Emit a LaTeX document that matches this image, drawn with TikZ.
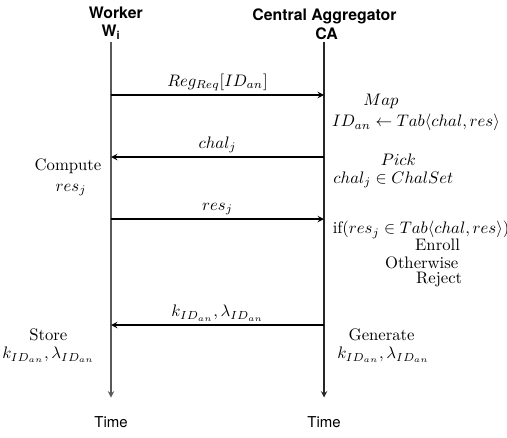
\documentclass[tikz,border=0pt]{standalone}
\usepackage{amsmath, amssymb}
\usepackage{fontspec}
\setsansfont{TeX Gyre Heros}
\usepackage{tikz}
\tikzset{party label/.style={font=\fontsize{9.5}{11}\selectfont\sffamily\bfseries,inner sep=0},
         time label/.style={font=\fontsize{9}{11}\selectfont\sffamily,inner sep=0},
         msg label/.style={above,inner sep=2pt},
         step note/.style={inner sep=0}}
\def\ds{\displaystyle}

\begin{document}
\begin{tikzpicture}[>=stealth, line width=0.7pt]
        \useasboundingbox (0,0) rectangle (304.2pt,-262.2pt);

          %Workerの時間軸
          \node[party label] (worker) at (69.5pt,-7.5pt) {Worker};
          \node[party label] (Wi) at (66.6pt,-19.5pt) {W\textsubscript{i}};
          \coordinate (wtop) at (66.6pt,-25pt);
          \coordinate (wbot) at (66.6pt,-238.5pt);
          \draw[->, draw=black!65] (wtop) -- (wbot);
          \node[time label] (wtime) at (66.6pt,-253.5pt) {Time};

          %CAの時間軸
          \node[party label] (central) at (194.7pt,-9.6pt) {Central Aggregator};
          \node[party label] (CA) at (196pt,-20.5pt) {CA};
          \coordinate (ctop) at (194.4pt,-25pt);
          \coordinate (cbot) at (194.4pt,-238.5pt);
          \draw[->, draw=black!85] (ctop) -- (cbot);
          \node[time label] (ctime) at (194.4pt,-253.5pt) {Time};

          %登録要求 W->CA
          \coordinate (w1) at (66.6pt,-57pt);
          \coordinate (c1) at (194.4pt,-57pt);
          \draw[->] (w1) -- node[msg label] {$\ds Reg_{Req}[ID_{an}]$} (c1);
          \node[step note] (map) at (228.6pt,-61pt) {$\ds Map$};
          \node[step note] (tab) at (249.6pt,-73.5pt) {$\ds ID_{an} \leftarrow Tab\langle chal, res\rangle$};

          %チャレンジ CA->W
          \coordinate (c2) at (194.4pt,-94.2pt);
          \coordinate (w2) at (66.6pt,-94.2pt);
          \draw[->] (c2) -- node[msg label] {$\ds chal_j$} (w2);
          \node[step note] (pick) at (239pt,-96pt) {$\ds Pick$};
          \node[step note] (chalset) at (236pt,-108pt) {$\ds chal_j \in ChalSet$};
          \node[step note] (compute) at (40.8pt,-99.6pt) {Compute};
          \node[step note] (resj) at (42.6pt,-114pt) {$\ds res_j$};

          %レスポンス W->CA
          \coordinate (w3) at (66.6pt,-131.4pt);
          \coordinate (c3) at (194.4pt,-131.4pt);
          \draw[->] (w3) -- node[msg label] {$\ds res_j$} (c3);
          \node[step note] (check) at (252.6pt,-138pt) {if$(res_j \in Tab\langle chal, res\rangle)$};
          \node[step note] (enroll) at (262.5pt,-147pt) {Enroll};
          \node[step note] (otherwise) at (253pt,-157.5pt) {Otherwise};
          \node[step note] (reject) at (263.5pt,-168pt) {Reject};

          %鍵 CA->W
          \coordinate (c4) at (194.4pt,-195pt);
          \coordinate (w4) at (66.6pt,-195pt);
          \draw[->] (c4) -- node[msg label] {$\ds k_{ID_{an}}, \lambda_{ID_{an}}$} (w4);
          \node[step note] (store) at (29pt,-201pt) {Store};
          \node[step note] (wkey) at (29pt,-213pt) {$\ds k_{ID_{an}}, \lambda_{ID_{an}}$};
          \node[step note] (generate) at (229pt,-201pt) {Generate};
          \node[step note] (ckey) at (230pt,-213pt) {$\ds k_{ID_{an}}, \lambda_{ID_{an}}$};

        \end{tikzpicture}
\end{document}
